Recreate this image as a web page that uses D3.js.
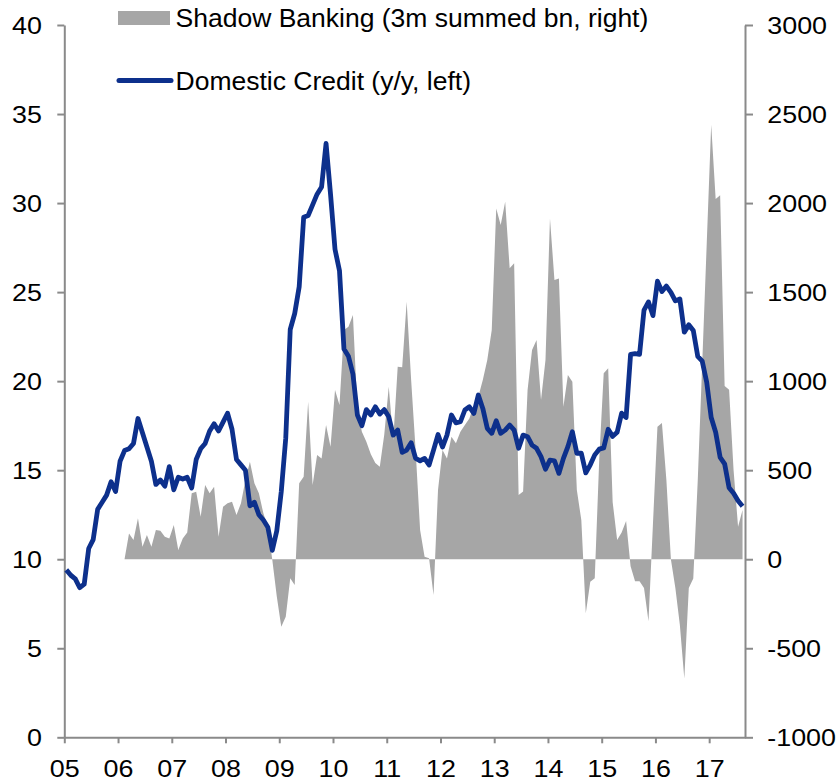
<!DOCTYPE html>
<html>
<head>
<meta charset="utf-8">
<script src="https://cdn.jsdelivr.net/npm/d3@7"></script>
<style>
  html, body { margin: 0; padding: 0; background: #fff; }
  svg { display: block; }
  text { font-family: "Liberation Sans", Arial, sans-serif; fill: #000; }
</style>
</head>
<body>
<div id="chart"></div>
<script>
// ---------- DATA ----------
const yearLabels = ["05","06","07","08","09","10","11","12","13","14","15","16","17"];
const leftTicks  = [0, 5, 10, 15, 20, 25, 30, 35, 40];
const rightTicks = [-1000, -500, 0, 500, 1000, 1500, 2000, 2500, 3000];

// Domestic Credit (y/y %, left) monthly from Jan 2005
const credit = [
  9.4, 9.1, 8.9, 8.4, 8.6, 10.6, 11.1, 12.8, 13.2, 13.6, 14.35, 13.8,
  15.5, 16.1, 16.2, 16.5, 17.9, 17.1, 16.3, 15.5, 14.2, 14.45, 14.1, 15.2,
  13.9, 14.6, 14.5, 14.6, 14.0, 15.6, 16.2, 16.5, 17.2, 17.6, 17.2, 17.7,
  18.2, 17.3, 15.6, 15.3, 15.0, 13.0, 13.2, 12.5, 12.2, 11.8, 10.5, 11.6,
  13.8, 16.8, 22.9, 23.8, 25.3, 29.2, 29.3, 29.9, 30.5, 30.9, 33.35, 30.5,
  27.4, 26.2, 21.8, 21.4, 20.4, 18.1, 17.5, 18.4, 18.1, 18.56, 18.15, 18.4,
  18.0, 16.97, 17.25, 16.0, 16.13, 16.54, 15.66, 15.53, 15.66, 15.29, 16.13, 17.0,
  16.3, 16.97, 18.1, 17.66, 17.72, 18.38, 18.56, 18.19, 19.22, 18.47, 17.35, 17.07,
  17.78, 17.07, 17.25, 17.54, 17.25, 16.23, 16.97, 16.88, 16.41, 16.23, 15.76, 15.05,
  15.57, 15.53, 14.82, 15.66, 16.32, 17.16, 15.95, 15.95, 14.85, 15.3, 15.86, 16.18,
  16.25, 17.3, 16.9, 17.13, 18.2, 17.96, 21.5, 21.54, 21.5, 23.99, 24.45, 23.68,
  25.61, 25.03, 25.34, 24.99, 24.51, 24.62, 22.75, 23.16, 22.85, 21.39, 21.12, 19.94,
  17.96, 17.13, 15.72, 15.36, 14.01, 13.7, 13.28, 12.97
];

// Shadow Banking (3m summed bn, right) monthly, starting Feb 2006 (month index 13)
const shadowStart = 13;
const shadow = [
  0, 145, 108, 230, 70, 136, 70, 164, 160, 126, 117,
  192, 52, 117, 150, 370, 379, 239, 417, 370, 407, 126, 295,
  314, 323, 248, 314, 445, 548, 426, 370, 258, 182, -5, -210,
  -379, -323, -107, -145, 426, 463, 884, 417, 585, 566, 754, 632,
  950, 866, 1287, 1306, 1371, 838, 716, 660, 590, 540, 520, 700,
  969, 669, 1081, 1078, 1446, 1006, 613, 164, 14, 5, -201, 389,
  613, 566, 688, 651, 716, 754, 790, 860, 913, 1006, 1119, 1287,
  1970, 1877, 2008, 1634, 1662, 360, 380, 950, 1175, 1231, 894, 1119,
  1914, 1568, 1577, 856, 1034, 997, 389, 220, -304, -126, -107, 560,
  1044, 1072, 320, 108, 150, 214, -40, -123, -123, -161, -348, 200,
  744, 765, 443, 0, -161, -368, -670, -161, -108, 443, 1100, 1770,
  2440, 2023, 2044, 973, 952, 500, 183, 276
];

const legendLabels = ["Shadow Banking (3m summed bn, right)", "Domestic Credit (y/y, left)"];

// ---------- LAYOUT ----------
const W = 836, H = 782;
const plotLeft = 64.3, plotRight = 745, plotTop = 25, plotBottom = 737.3;
const monthOffset = 0.45;
const greyFill = "#a6a6a6";
const blue = "#0d308c";
const axisColor = "#8a8a8a";
const tickFont = 24, tickStretch = 1.12;
const plainNum = d => String(d);   // ASCII hyphen-minus, as in the reference

const svg = d3.select("#chart").append("svg").attr("width", W).attr("height", H);

const x = d3.scaleLinear().domain([0, 152]).range([plotLeft, plotRight]);
const yL = d3.scaleLinear().domain([0, 40]).range([plotBottom, plotTop]);
const yR = d3.scaleLinear().domain([-1000, 3000]).range([plotBottom, plotTop]);

const creditData = credit.map((v, i) => ({ m: i + monthOffset, v }));
const shadowData = shadow.map((v, i) => ({ m: i + shadowStart + monthOffset, v }));

// Area
svg.append("path")
  .datum(shadowData)
  .attr("fill", greyFill)
  .attr("d", d3.area().x(d => x(d.m)).y0(yR(0)).y1(d => yR(d.v)));

// Axes
function styleAxis(g) {
  g.selectAll("path.domain").attr("stroke", axisColor).attr("stroke-width", 2);
  g.selectAll(".tick line").attr("stroke", axisColor).attr("stroke-width", 2);
  g.selectAll(".tick text")
    .attr("font-size", tickFont)
    .attr("font-family", '"Liberation Sans", Arial, sans-serif')
    .attr("fill", "#000")
    .attr("transform", `scale(${tickStretch},1)`);
}

const gx = svg.append("g").attr("transform", `translate(0,${plotBottom})`)
  .call(d3.axisBottom(x).tickValues(yearLabels.map((d, i) => i * 12))
    .tickFormat((d, i) => yearLabels[i]).tickSize(6).tickSizeOuter(0));
styleAxis(gx);
gx.selectAll(".tick text").attr("y", 39.7).attr("dy", 0);

const gl = svg.append("g").attr("transform", `translate(${plotLeft},0)`)
  .call(d3.axisLeft(yL).tickValues(leftTicks).tickFormat(plainNum).tickSize(7).tickSizeOuter(0));
styleAxis(gl);
gl.selectAll(".tick text").attr("x", -22.3 / tickStretch).attr("dy", "0.36em");

const gr = svg.append("g").attr("transform", `translate(${plotRight},0)`)
  .call(d3.axisRight(yR).tickValues(rightTicks).tickFormat(plainNum).tickSize(8).tickSizeOuter(0));
styleAxis(gr);
gr.selectAll(".tick text").attr("x", 22.3 / tickStretch).attr("dy", "0.36em");

// Line
svg.append("path")
  .datum(creditData)
  .attr("fill", "none")
  .attr("stroke", blue)
  .attr("stroke-width", 4.8)
  .attr("stroke-linejoin", "round")
  .attr("d", d3.line().x(d => x(d.m)).y(d => yL(d.v)));

// Legend
const lg = svg.append("g");
lg.append("rect").attr("x", 118).attr("y", 11).attr("width", 52).attr("height", 14).attr("fill", greyFill);
lg.append("text").attr("x", 175.5).attr("y", 27).attr("font-size", 26.5).text(legendLabels[0]);
lg.append("line").attr("x1", 119).attr("x2", 171).attr("y1", 80.5).attr("y2", 80.5)
  .attr("stroke", blue).attr("stroke-width", 5).attr("stroke-linecap", "round");
lg.append("text").attr("x", 175.5).attr("y", 90).attr("font-size", 26.5).text(legendLabels[1]);
</script>
</body>
</html>
